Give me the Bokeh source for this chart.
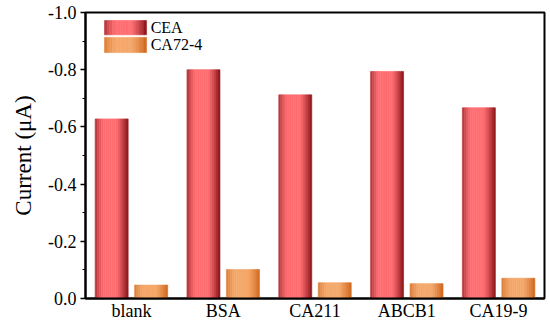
import numpy as np
from bokeh.plotting import figure
from bokeh.models import ColumnDataSource, Range1d, FixedTicker, SingleIntervalTicker, PrintfTickFormatter
from bokeh.core.properties import value
from bokeh.embed import file_html
from bokeh.resources import INLINE

categories = ["blank", "BSA", "CA211", "ABCB1", "CA19-9"]
series_names = ["CEA", "CA72-4"]
cea = [-0.628, -0.800, -0.712, -0.794, -0.667]
ca724 = [-0.047, -0.101, -0.055, -0.052, -0.071]

FONT = "'Liberation Serif', 'Times New Roman', serif"
offsets = [-0.215, 0.215]
bar_w = 0.36
N = 16
dark = [(0x86, 0x12, 0x16), (0xCF, 0x66, 0x1C)]
light = [(0xFF, 0x6E, 0x72), (0xF5, 0xA8, 0x6A)]


def shade(t, s):
    f = max(0.0, 1 - abs((t - 0.45) / 0.55) ** 1.6)
    f = min(1.0, f * 1.25)
    c = tuple(int(dark[s][j] + (light[s][j] - dark[s][j]) * f) for j in range(3))
    return "#%02x%02x%02x" % c


p = figure(width=550, height=323, output_backend="svg", toolbar_location=None,
           x_range=Range1d(0, len(categories)), y_range=Range1d(0, -1.0),
           min_border_left=85, min_border_right=6, min_border_top=12, min_border_bottom=0)

xs, ws, tops, cols = [], [], [], []
for s, vals in enumerate([cea, ca724]):
    for i, v in enumerate(vals):
        cx = i + 0.5 + offsets[s]
        for k in range(N):
            t = (k + 0.5) / N
            xs.append(cx - bar_w / 2 + t * bar_w)
            ws.append(bar_w / N)
            tops.append(v)
            cols.append(shade(t, s))
src = ColumnDataSource(dict(x=xs, w=ws, top=tops, c=cols))
p.vbar(x="x", width="w", top="top", bottom=0, source=src, fill_color="c", line_color="c", line_width=0.6)

# legend swatches (gradient)
leg_x0, leg_x1 = 0.207, 0.665
leg_rows = [(-0.972, -0.922), (-0.913, -0.860)]
lx, lw, lt, lb, lc = [], [], [], [], []
for s, (b, t_) in enumerate(leg_rows):
    for k in range(N):
        t = (k + 0.5) / N
        lx.append(leg_x0 + t * (leg_x1 - leg_x0))
        lw.append((leg_x1 - leg_x0) / N)
        lt.append(t_)
        lb.append(b)
        lc.append(shade(t, s))
p.vbar(x="x", width="w", top="t", bottom="b",
       source=ColumnDataSource(dict(x=lx, w=lw, t=lt, b=lb, c=lc)),
       fill_color="c", line_color="c", line_width=0.6)
p.text(x=[0.71, 0.71], y=[sum(r) / 2 for r in leg_rows], text=series_names,
       text_font=value(FONT), text_font_size="16px", text_baseline="middle", text_color="black")

p.xgrid.visible = False
p.ygrid.visible = False
p.outline_line_color = "black"
p.outline_line_width = 2
p.outline_line_alpha = 1

p.xaxis.ticker = FixedTicker(ticks=[i + 0.5 for i in range(len(categories))])
p.xaxis.major_label_overrides = {i + 0.5: c for i, c in enumerate(categories)}
p.xaxis.major_tick_line_color = None
p.xaxis.minor_tick_line_color = None
p.xaxis.major_tick_out = 0
p.xaxis.major_tick_in = 0
p.xaxis.major_label_standoff = 2

p.yaxis.ticker = SingleIntervalTicker(interval=0.2, num_minor_ticks=2)
p.yaxis.formatter = PrintfTickFormatter(format="%.1f")
p.yaxis.major_tick_out = 5
p.yaxis.major_tick_in = 0
p.yaxis.minor_tick_out = 3
p.yaxis.minor_tick_in = 0
p.yaxis.axis_label = "Current (μA)"
p.yaxis.axis_label_text_font = FONT
p.yaxis.axis_label_text_font_size = "23px"
p.yaxis.axis_label_text_font_style = "normal"
p.yaxis.axis_label_text_color = "black"
p.yaxis.axis_label_standoff = 9
p.yaxis.major_label_standoff = 4

for ax in [p.xaxis[0], p.yaxis[0]]:
    ax.axis_line_width = 2
    ax.axis_line_color = "black"
    ax.major_tick_line_width = 1.5
    ax.major_label_text_font = FONT
    ax.major_label_text_font_size = "18px"
    ax.major_label_text_color = "black"
p.yaxis.major_tick_line_color = "black"
p.yaxis.minor_tick_line_color = "black"

open("out.html", "w").write(file_html(p, INLINE))
